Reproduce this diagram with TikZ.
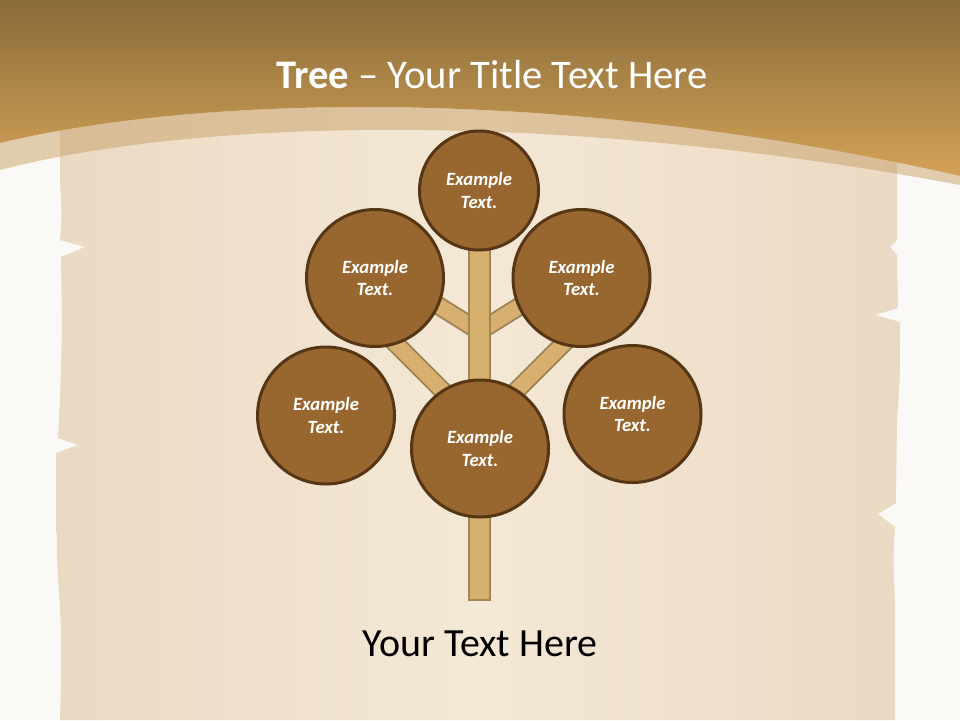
\documentclass[tikz,border=0pt]{standalone}
\usepackage{fontspec}
\setmainfont{Carlito}
\definecolor{bgwhite}{HTML}{FBF9F6}
\definecolor{parchC}{HTML}{F4E8D6}
\definecolor{parchE}{HTML}{EADAC3}
\definecolor{topA}{HTML}{8A6B3A}
\definecolor{topB}{HTML}{D3A257}
\definecolor{bandC}{HTML}{C8A068}
\definecolor{leafFill}{HTML}{98672F}
\definecolor{leafLine}{HTML}{563615}
\definecolor{woodFill}{HTML}{D7AF6E}
\definecolor{woodLine}{HTML}{A08555}
\tikzset{
  leaf/.style={circle, draw=leafLine, fill=leafFill, line width=3pt, inner sep=0pt,
    minimum size=137pt, text=white, align=center,
    font=\bfseries\itshape\fontsize{18.7}{22.5}\selectfont},
  smallleaf/.style={leaf, minimum size=119pt},
  branch/.style={draw=woodLine, line width=2pt, double=woodFill, double distance=15pt},
  trunkbox/.style={rectangle, draw=woodLine, fill=woodFill, line width=2pt, inner sep=0pt,
    minimum width=21pt, minimum height=360pt},
}
\begin{document}
\begin{tikzpicture}[x=1pt,y=-1pt]
\useasboundingbox (0,0) rectangle (960,720);
% background
\fill[bgwhite] (0,0) rectangle (960,720);
% parchment
\path[left color=parchE, right color=parchE, middle color=parchC]
  (60,100) -- (60,183) .. controls (62,215) .. (60,240) -- (85,247) -- (61,257)
  -- (62,330) .. controls (60,400) .. (58,438) -- (78,445) -- (56,453)
  -- (57,560) .. controls (62,640) .. (60,720) -- (895,720)
  -- (895,600) .. controls (893,560) .. (895,527) -- (878,514) -- (896,503)
  -- (897,420) .. controls (900,380) .. (900,322) -- (875,315) -- (898,308)
  -- (897,255) -- (890,247) -- (897,240) -- (897,100) -- cycle;
% top band
\path[top color=topA, bottom color=topB]
  (0,0) -- (960,0) -- (960,176) .. controls (560,85) and (200,95) .. (0,143) -- cycle;
\fill[bandC, opacity=0.5]
  (0,143) .. controls (200,95) and (560,85) .. (960,176) -- (960,185)
  .. controls (560,110) and (200,118) .. (0,170) -- cycle;
% title
\node[anchor=base, text=white, font=\fontsize{40.6}{48}\selectfont] (title) at (492,88)
  {\textbf{Tree} – Your Title Text Here};
% branches
\coordinate (tUL) at (479,331); \coordinate (eUL) at (375,266);
\coordinate (tUR) at (480,331); \coordinate (eUR) at (584,266);
\coordinate (tLL) at (479,427); \coordinate (eLL) at (375,323);
\coordinate (tLR) at (480,427); \coordinate (eLR) at (584,323);
\draw[branch] (tUL) -- (eUL);
\draw[branch] (tUR) -- (eUR);
\draw[branch] (tLL) -- (eLL);
\draw[branch] (tLR) -- (eLR);
% trunk
\node[trunkbox] (trunk) at (479.5,420) {};
% leaves
\node[smallleaf] (top) at (479,190.5) {Example\\Text.};
\node[leaf] (ul) at (375,278) {Example\\Text.};
\node[leaf] (ur) at (581.5,278) {Example\\Text.};
\node[leaf] (ll) at (326,415.5) {Example\\Text.};
\node[leaf] (lr) at (632.5,414) {Example\\Text.};
\node[leaf] (mid) at (480,448.5) {Example\\Text.};
% caption
\node[anchor=base, text=black, font=\fontsize{40}{46}\selectfont] (caption) at (480,656)
  {Your Text Here};
\end{tikzpicture}
\end{document}
